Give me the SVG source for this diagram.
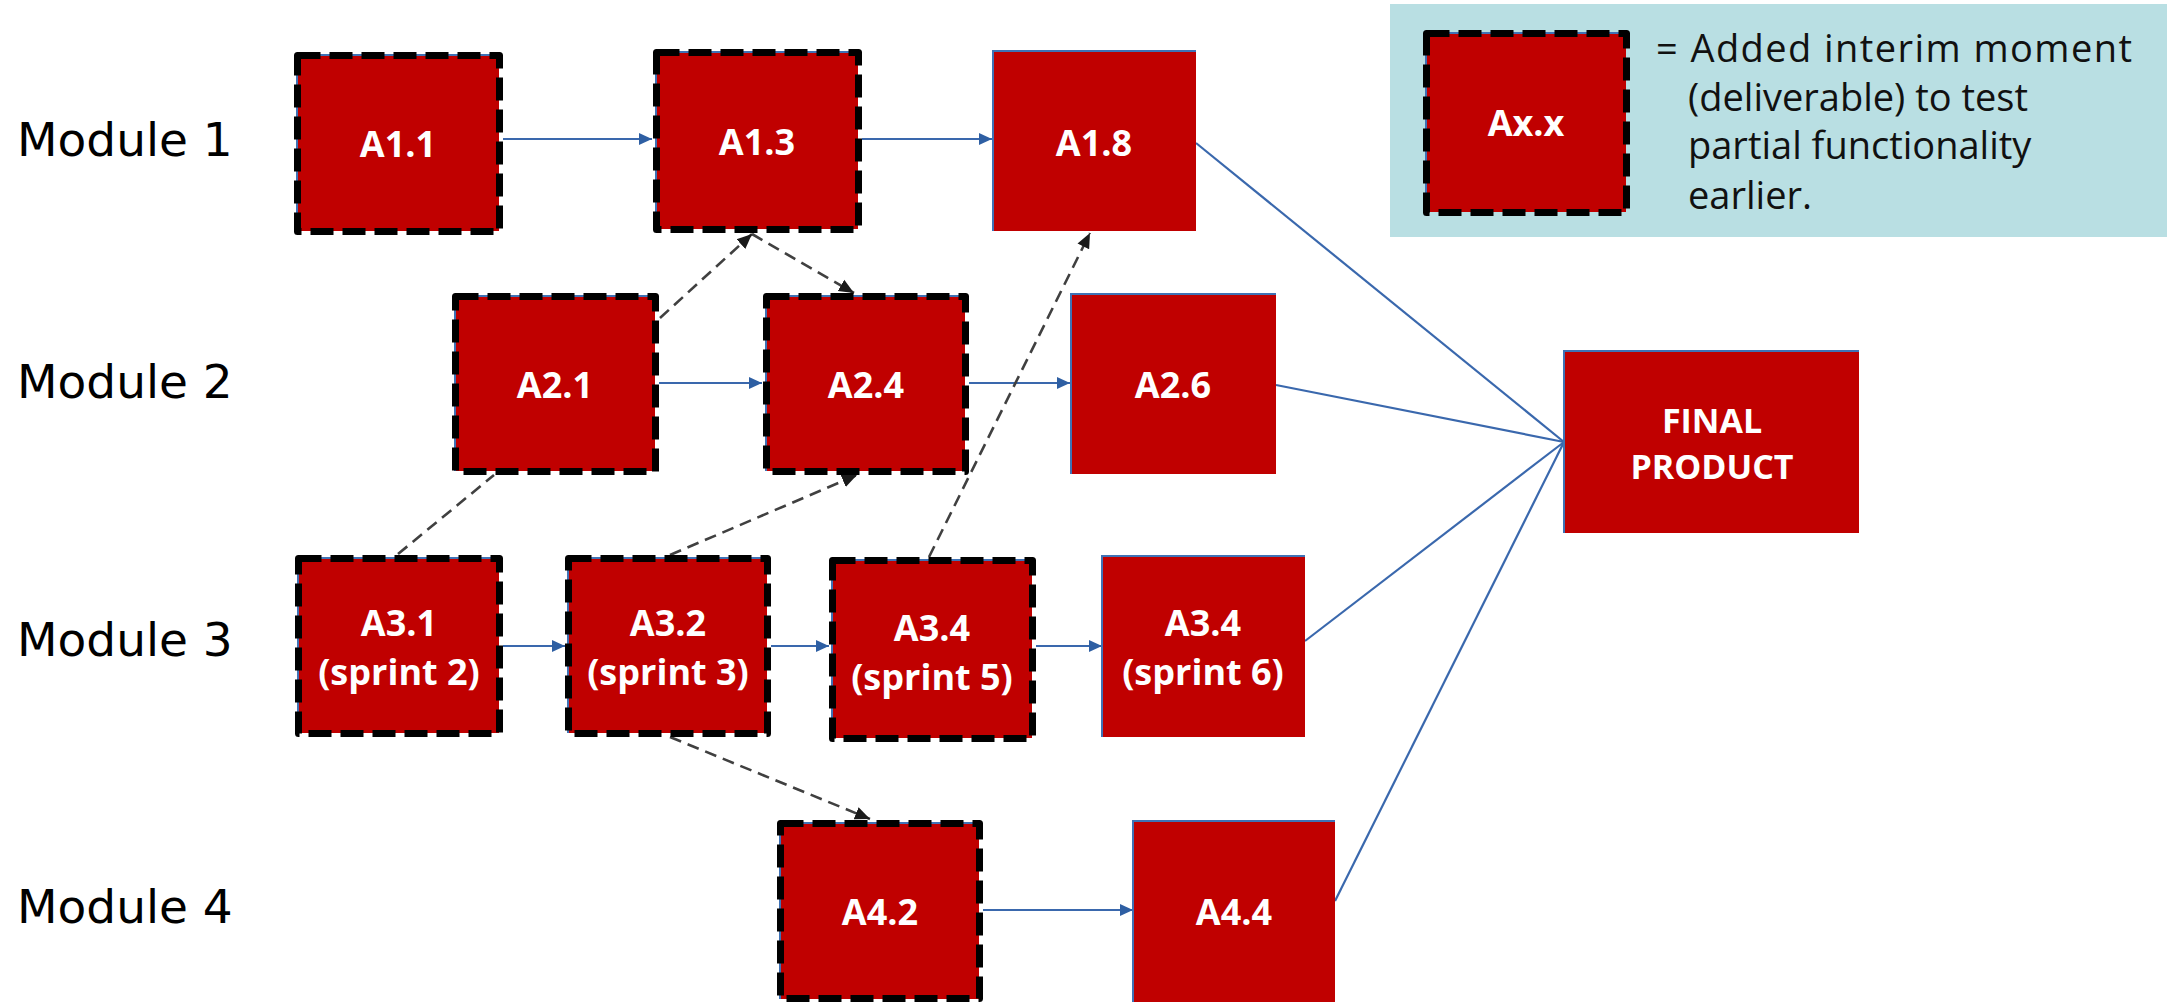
<svg xmlns="http://www.w3.org/2000/svg" width="2167" height="1002" viewBox="0 0 2167 1002">
<style>
.fill{fill:#c00000}
.edge{fill:#c00000;stroke:#3f72b5;stroke-width:2}
.dash{fill:none;stroke:#000;stroke-width:7;stroke-dasharray:23 9;stroke-linejoin:round}
.lbl{font-family:"Open Sans","Noto Sans",sans-serif;font-weight:700;font-size:36px;fill:#fff;text-anchor:middle}
.mod{font-family:"DejaVu Sans",Verdana,sans-serif;font-size:47px;fill:#000}
.leg{font-family:"Open Sans","Noto Sans",sans-serif;font-size:38px;fill:#111}
.flow{fill:none;stroke:#3a68ad;stroke-width:2.2}
.dep{fill:none;stroke:#404040;stroke-width:2.6;stroke-dasharray:12 7}
</style>
<defs>
<marker id="ab" markerUnits="userSpaceOnUse" markerWidth="14" markerHeight="14" viewBox="0 0 14 14" refX="13" refY="7" orient="auto"><path d="M0,1 L13,7 L0,13 Z" fill="#2e5fa3"/></marker>
<marker id="ak" markerUnits="userSpaceOnUse" markerWidth="16" markerHeight="16" viewBox="0 0 16 16" refX="15" refY="8" orient="auto"><path d="M0,1.5 L15,8 L0,14.5 Z" fill="#1a1a1a"/></marker>
</defs>
<rect width="2167" height="1002" fill="#fff"/>

<g id="legend">
<rect x="1390" y="4" width="777" height="233" fill="#b9dfe3"/>
<rect class="edge" x="1426" y="33" width="199" height="178"/>
<rect class="fill" x="1427" y="34" width="199" height="178"/>
<rect class="dash" x="1426.5" y="33.5" width="200" height="179"/>
<text class="lbl" x="1526" y="136">Ax.x</text>
<text class="leg" x="1656" y="62" textLength="476">= Added interim moment</text>
<text class="leg" x="1688" y="111">(deliverable) to test</text>
<text class="leg" x="1688" y="159">partial functionality</text>
<text class="leg" x="1688" y="209">earlier.</text>
</g>

<g id="modules">
<text class="mod" x="17" y="156">Module 1</text>
<text class="mod" x="17" y="398">Module 2</text>
<text class="mod" x="17" y="656">Module 3</text>
<text class="mod" x="17" y="923">Module 4</text>
</g>

<g id="connectors">
<path class="flow" d="M503 139 L652 139" marker-end="url(#ab)"/>
<path class="flow" d="M862 139 L992 139" marker-end="url(#ab)"/>
<path class="flow" d="M659 383 L762 383" marker-end="url(#ab)"/>
<path class="flow" d="M969 383 L1070 383" marker-end="url(#ab)"/>
<path class="flow" d="M503 646 L565 646" marker-end="url(#ab)"/>
<path class="flow" d="M771 646 L829 646" marker-end="url(#ab)"/>
<path class="flow" d="M1036 646 L1102 646" marker-end="url(#ab)"/>
<path class="flow" d="M983 910 L1133 910" marker-end="url(#ab)"/>
<path class="flow" d="M1196 143 L1564 442"/>
<path class="flow" d="M1276 385 L1564 442"/>
<path class="flow" d="M1305 641 L1564 442"/>
<path class="flow" d="M1335 901 L1564 442"/>
<path class="dep" d="M660 318 L752 234" marker-end="url(#ak)"/>
<path class="dep" d="M752 234 L854 293" marker-end="url(#ak)"/>
<path class="dep" d="M398 554 L494 475"/>
<path class="dep" d="M670 555 L857 475" marker-end="url(#ak)"/>
<path class="dep" d="M929 557 L1090 233" marker-end="url(#ak)"/>
<path class="dep" d="M670 737 L870 819" marker-end="url(#ak)"/>
</g>

<g id="A1.1">
<rect class="edge" x="297" y="55" width="201" height="175"/><rect class="fill" x="298" y="56" width="201" height="175"/>
<rect class="dash" x="297.5" y="55.5" width="202" height="176"/>
<text class="lbl" x="398" y="157">A1.1</text>
</g>
<g id="A1.3">
<rect class="edge" x="656" y="52" width="201" height="176"/><rect class="fill" x="657" y="53" width="201" height="176"/>
<rect class="dash" x="656.5" y="52.5" width="202" height="177"/>
<text class="lbl" x="757" y="155">A1.3</text>
</g>
<g id="A1.8">
<rect class="edge" x="993" y="51" width="202" height="179"/><rect class="fill" x="994" y="52" width="202" height="179"/>
<text class="lbl" x="1094" y="156">A1.8</text>
</g>
<g id="A2.1">
<rect class="edge" x="455" y="296" width="199" height="174"/><rect class="fill" x="456" y="297" width="199" height="174"/>
<rect class="dash" x="455.5" y="296.5" width="200" height="175"/>
<text class="lbl" x="555" y="398">A2.1</text>
</g>
<g id="A2.4">
<rect class="edge" x="766" y="296" width="198" height="174"/><rect class="fill" x="767" y="297" width="198" height="174"/>
<rect class="dash" x="766.5" y="296.5" width="199" height="175"/>
<text class="lbl" x="866" y="398">A2.4</text>
</g>
<g id="A2.6">
<rect class="edge" x="1071" y="294" width="204" height="179"/><rect class="fill" x="1072" y="295" width="204" height="179"/>
<text class="lbl" x="1173" y="398">A2.6</text>
</g>
<g id="A3.1">
<rect class="edge" x="298" y="558" width="200" height="174"/><rect class="fill" x="299" y="559" width="200" height="174"/>
<rect class="dash" x="298.5" y="558.5" width="201" height="175"/>
<text class="lbl" x="399" y="636">A3.1</text>
<text class="lbl" x="399" y="685">(sprint 2)</text>
</g>
<g id="A3.2">
<rect class="edge" x="568" y="558" width="198" height="174"/><rect class="fill" x="569" y="559" width="198" height="174"/>
<rect class="dash" x="568.5" y="558.5" width="199" height="175"/>
<text class="lbl" x="668" y="636">A3.2</text>
<text class="lbl" x="668" y="685">(sprint 3)</text>
</g>
<g id="A3.4-sprint5">
<rect class="edge" x="832" y="560" width="199" height="177"/><rect class="fill" x="833" y="561" width="199" height="177"/>
<rect class="dash" x="832.5" y="560.5" width="200" height="178"/>
<text class="lbl" x="932" y="641">A3.4</text>
<text class="lbl" x="932" y="690">(sprint 5)</text>
</g>
<g id="A3.4-sprint6">
<rect class="edge" x="1102" y="556" width="202" height="180"/><rect class="fill" x="1103" y="557" width="202" height="180"/>
<text class="lbl" x="1203" y="636">A3.4</text>
<text class="lbl" x="1203" y="685">(sprint 6)</text>
</g>
<g id="A4.2">
<rect class="edge" x="780" y="823" width="198" height="175"/><rect class="fill" x="781" y="824" width="198" height="175"/>
<rect class="dash" x="780.5" y="823.5" width="199" height="175"/>
<text class="lbl" x="880" y="925">A4.2</text>
</g>
<g id="A4.4">
<rect class="edge" x="1133" y="821" width="201" height="182"/><rect class="fill" x="1134" y="822" width="201" height="182"/>
<text class="lbl" x="1234" y="925">A4.4</text>
</g>
<g id="FINAL">
<rect class="edge" x="1564" y="351" width="294" height="181"/><rect class="fill" x="1565" y="352" width="294" height="181"/>
<text class="lbl" x="1712" y="433" style="font-size:34px">FINAL</text>
<text class="lbl" x="1712" y="479" style="font-size:34px">PRODUCT</text>
</g>
</svg>
